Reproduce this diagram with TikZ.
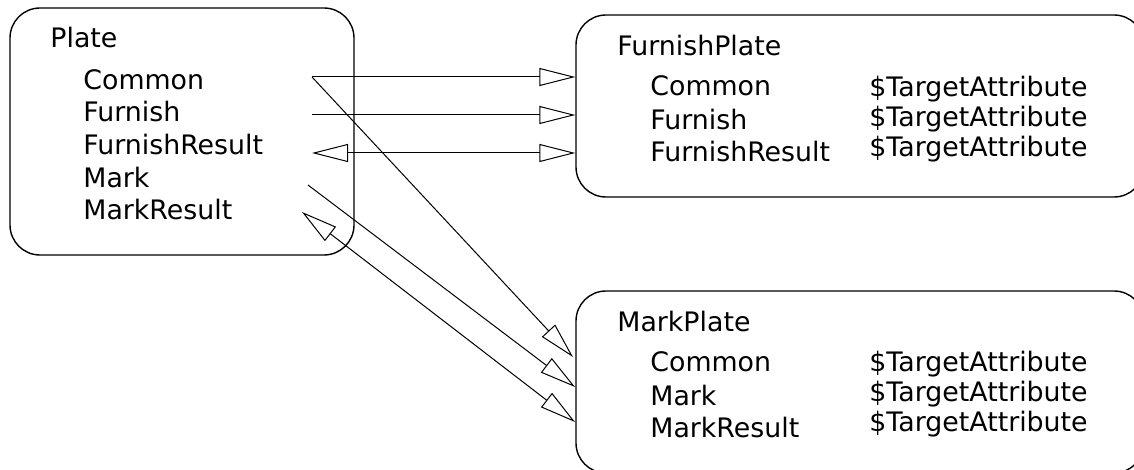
\documentclass[tikz,border=0pt]{standalone}
\usepackage{fontspec}
\setmainfont{DejaVu Sans}
\usetikzlibrary{arrows.meta,positioning,calc}
\tikzset{
  plate/.style={
      draw,
      line width=0.7pt,
      rounded corners=15pt,
      inner sep=0pt
    },
  attr/.style={anchor=base west,inner sep=0pt,font=\fontsize{13.4}{16}\selectfont},
  link/.style={line width=0.5pt,-{Triangle[open,length=18pt,width=9pt]}},
  twoway/.style={line width=0.5pt,{Triangle[open,length=18pt,width=9pt]}-{Triangle[open,length=18pt,width=9pt]}}
}
\begin{document}
\begin{tikzpicture}[x=0.5pt,y=-0.5pt]
\useasboundingbox (0,0) rectangle (1134,470);
% the shapes
\node[plate,minimum width=172pt,minimum height=123.5pt] (plate) at (182,131.5) {};
\node[plate,minimum width=284pt,minimum height=91pt] (furnish) at (860,106) {};
\node[plate,minimum width=284pt,minimum height=91pt] (mark) at (860,382) {};

% the texts
\node[attr] (plate-name) at (50,48) {Plate};
\foreach \Name/\Y in {Common/90,Furnish/122,FurnishResult/155,Mark/188,MarkResult/220}
  \node[attr] (plate-\Name) at (83,\Y) {\Name};
\node[attr] (furnish-name) at (617,56) {FurnishPlate};
\foreach \Name/\Y/\Z in {Common/96/96.7,Furnish/130/126.7,FurnishResult/162/156.7}
  {\node[attr] (furnish-\Name) at (650,\Y) {\Name};
   \node[attr] (furnish-\Name-t) at (869,\Z) {\$TargetAttribute};}
\node[attr] (mark-name) at (617,331) {MarkPlate};
\foreach \Name/\Y/\Z in {Common/371/371,Mark/405/401,MarkResult/437/431}
  {\node[attr] (mark-\Name) at (650,\Y) {\Name};
   \node[attr] (mark-\Name-t) at (869,\Z) {\$TargetAttribute};}

% the ends
\path
  (312,77) coordinate (out-common)
  (312,115) coordinate (out-furnish)
  (312,153) coordinate (out-fresult)
  (308,185) coordinate (out-mark)
  (302,212) coordinate (out-mresult)
  (573,357) coordinate (in-common)
  (575,387) coordinate (in-mark)
  (575,422) coordinate (in-mresult);

%the arrows
\draw[link] (out-common) -- (furnish.west |- out-common);
\draw[link] (out-furnish) -- (furnish.west |- out-furnish);
\draw[twoway] (out-fresult) -- (furnish.west |- out-fresult);
\draw[link] (out-common) -- (in-common);
\draw[link] (out-mark) -- (in-mark);
\draw[twoway] (out-mresult) -- (in-mresult);
\end{tikzpicture}
\end{document}
